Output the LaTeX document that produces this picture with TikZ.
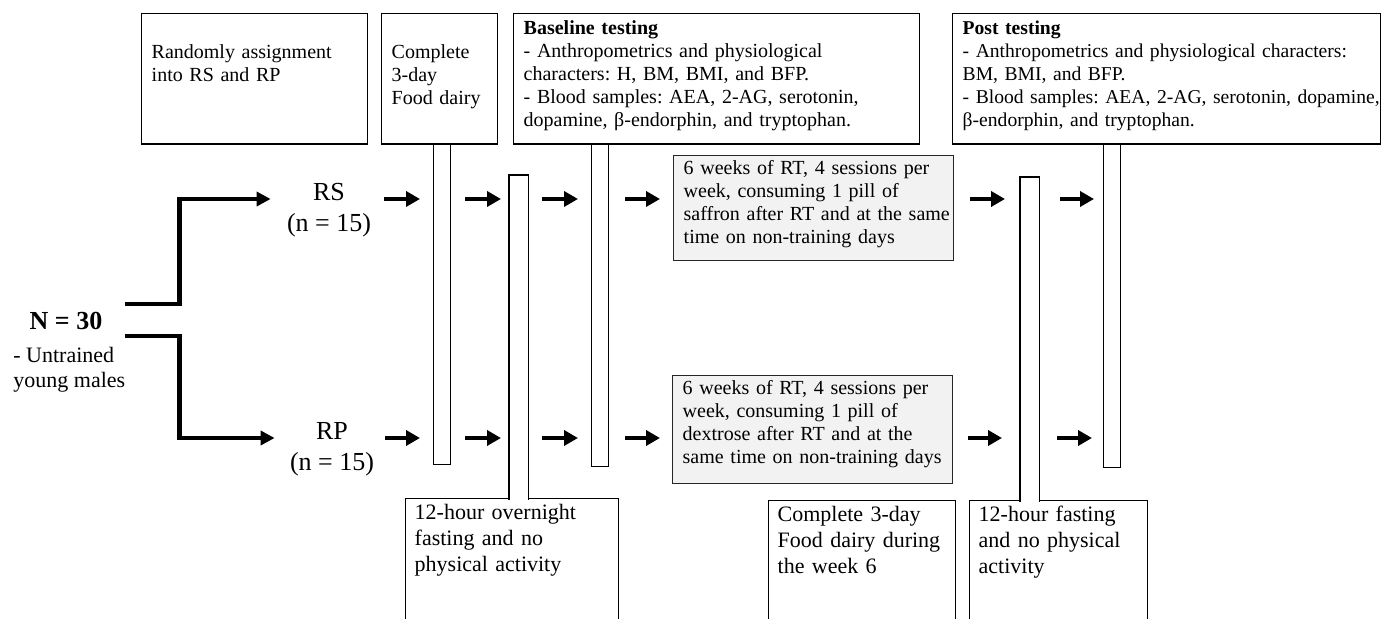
\documentclass[tikz,border=0pt]{standalone}
\usepackage{fontspec}
\setmainfont{Liberation Serif}
\frenchspacing
\usetikzlibrary{positioning, calc, arrows.meta}
\tikzset{
  box/.style={draw, line width=0.7pt, rectangle, anchor=north west, align=left,
    inner xsep=5pt, inner ysep=0pt, font=\fontsize{10}{11.5}\selectfont},
  lowbox/.style={box, inner xsep=4.5pt, font=\fontsize{11}{13}\selectfont},
  trainbox/.style={box, fill=gray!10, draw=black!85},
  bar/.style={draw, line width=0.7pt, rectangle, anchor=north west, inner sep=0pt, minimum width=8.5pt},
  flow/.style={line width=2.2pt, -{Triangle[length=7pt,width=7.5pt]}},
  branch/.style={line width=2.4pt, -{Triangle[length=7pt,width=7pt]}},
  grp/.style={align=center, inner sep=0pt, anchor=base, font=\fontsize{13}{15.5}\selectfont}
}

\begin{document}
\begin{tikzpicture}[x=0.5pt, y=-0.5pt]
    % frame of the figure
    \useasboundingbox (0,0) rectangle (1381,619);

    % rows of the two groups
    \coordinate (rowS) at (0,199);
    \coordinate (rowP) at (0,438);

    % boxes along the top
    \node[box, text width=103pt, text height=22.25pt, text depth=43pt] (assign) at (141,13) {Randomly assignment\\into RS and RP};
    \node[box, text width=48pt, text height=22.25pt, text depth=43pt] (diet) at (381,13) {Complete\\3-day\\Food dairy};
    \node[box, text width=193pt, text height=10.25pt, text depth=55pt] (base) at (513,13) {\textbf{Baseline testing}\\- Anthropometrics and physiological\\characters: H, BM, BMI, and BFP.\\- Blood samples: AEA, 2-AG, serotonin,\\dopamine, β-endorphin, and tryptophan.};
    \node[box, font=\fontsize{9.8}{11.5}\selectfont, text width=204pt, text height=10.25pt, text depth=55pt] (post) at (952,13) {\textbf{Post testing}\\- Anthropometrics and physiological characters:\\BM, BMI, and BFP.\\\mbox{- Blood samples: AEA, 2-AG, serotonin, dopamine,}\\β-endorphin, and tryptophan.};

    % training periods
    \node[trainbox, text width=130pt, text height=9.25pt, text depth=43.25pt] (trainS) at (673,155) {6 weeks of RT, 4 sessions per\\week, consuming 1 pill of\\\mbox{saffron after RT and at the same}\\time on non-training days};
    \node[trainbox, text width=130pt, text height=9.25pt, text depth=44.75pt] (trainP) at (672,375) {6 weeks of RT, 4 sessions per\\week, consuming 1 pill of\\dextrose after RT and at the\\same time on non-training days};

    % boxes along the bottom
    \node[lowbox, text width=97.5pt, text height=10.5pt, text depth=60pt] (fastA) at (405,498) {12-hour overnight\\fasting and no\\physical activity};
    \node[lowbox, text width=84.5pt, text height=10.5pt, text depth=60pt] (diet6) at (768,500) {Complete 3-day\\Food dairy during\\the week 6};
    \node[lowbox, text width=80pt, text height=10.5pt, text depth=60pt] (fastB) at (969,500) {12-hour fasting\\and no physical\\activity};

    % stems of the boxes
    \node[bar, minimum height=160.5pt] (bar1) at (433,143) {};
    \node[bar, draw=none, fill=white, minimum width=9pt, minimum height=162pt] (bar2) at (509,175) {};
    \draw[line width=0.7pt] (bar2.south west) -- (bar2.north west) -- (bar2.north east) -- (bar2.south east);
    \node[bar, minimum height=161pt] (bar3) at (591,144) {};
    \node[bar, draw=none, fill=white, minimum width=9pt, minimum height=162pt] (bar4) at (1020,177) {};
    \draw[line width=0.7pt] (bar4.south west) -- (bar4.north west) -- (bar4.north east) -- (bar4.south east);
    \node[bar, minimum height=162pt] (bar5) at (1103,143) {};

    % participants and groups
    \node[inner sep=0pt, font=\fontsize{13}{15}\selectfont\bfseries] (n30) at (66,321) {N = 30};
    \node[inner sep=0pt, anchor=north west, align=left, font=\fontsize{11}{12.5}\selectfont] (crowd) at (13,347) {- Untrained\\young males};
    \node[grp] (rs) at (329,232) {RS\\(n = 15)};
    \node[grp] (rp) at (332,471) {RP\\(n = 15)};

    % split into the two groups
    \draw[branch, shorten >=8pt] ($(n30.east)+(22,-17)$) -- ++(55,0) |- (rs.west |- rowS);
    \draw[branch, shorten >=7.5pt] ($(n30.east)+(22,15)$) -- ++(55,0) |- (rp.west |- rowP);

    % steps of the RS group
    \draw[flow, shorten <=6.5pt, shorten >=6.5pt] (rs.east |- rowS) -- (bar1.west |- rowS);
    \foreach \a/\b/\l/\r in {bar1/bar2/7pt/4pt, bar2/bar3/7pt/6.5pt, bar3/trainS/8pt/6.5pt, trainS/bar4/8pt/7.5pt, bar4/bar5/10.5pt/4.5pt} {
        \draw[flow, shorten <=\l, shorten >=\r] (\a.east |- rowS) -- (\b.west |- rowS);
    }

    % steps of the RP group
    \draw[flow, shorten <=5.5pt, shorten >=6.5pt] (rp.east |- rowP) -- (bar1.west |- rowP);
    \foreach \a/\b/\l/\r in {bar1/bar2/7pt/4pt, bar2/bar3/7pt/6.5pt, bar3/trainP/8pt/6pt, trainP/bar4/7.5pt/9pt, bar4/bar5/9pt/5.5pt} {
        \draw[flow, shorten <=\l, shorten >=\r] (\a.east |- rowP) -- (\b.west |- rowP);
    }

\end{tikzpicture}
\end{document}
